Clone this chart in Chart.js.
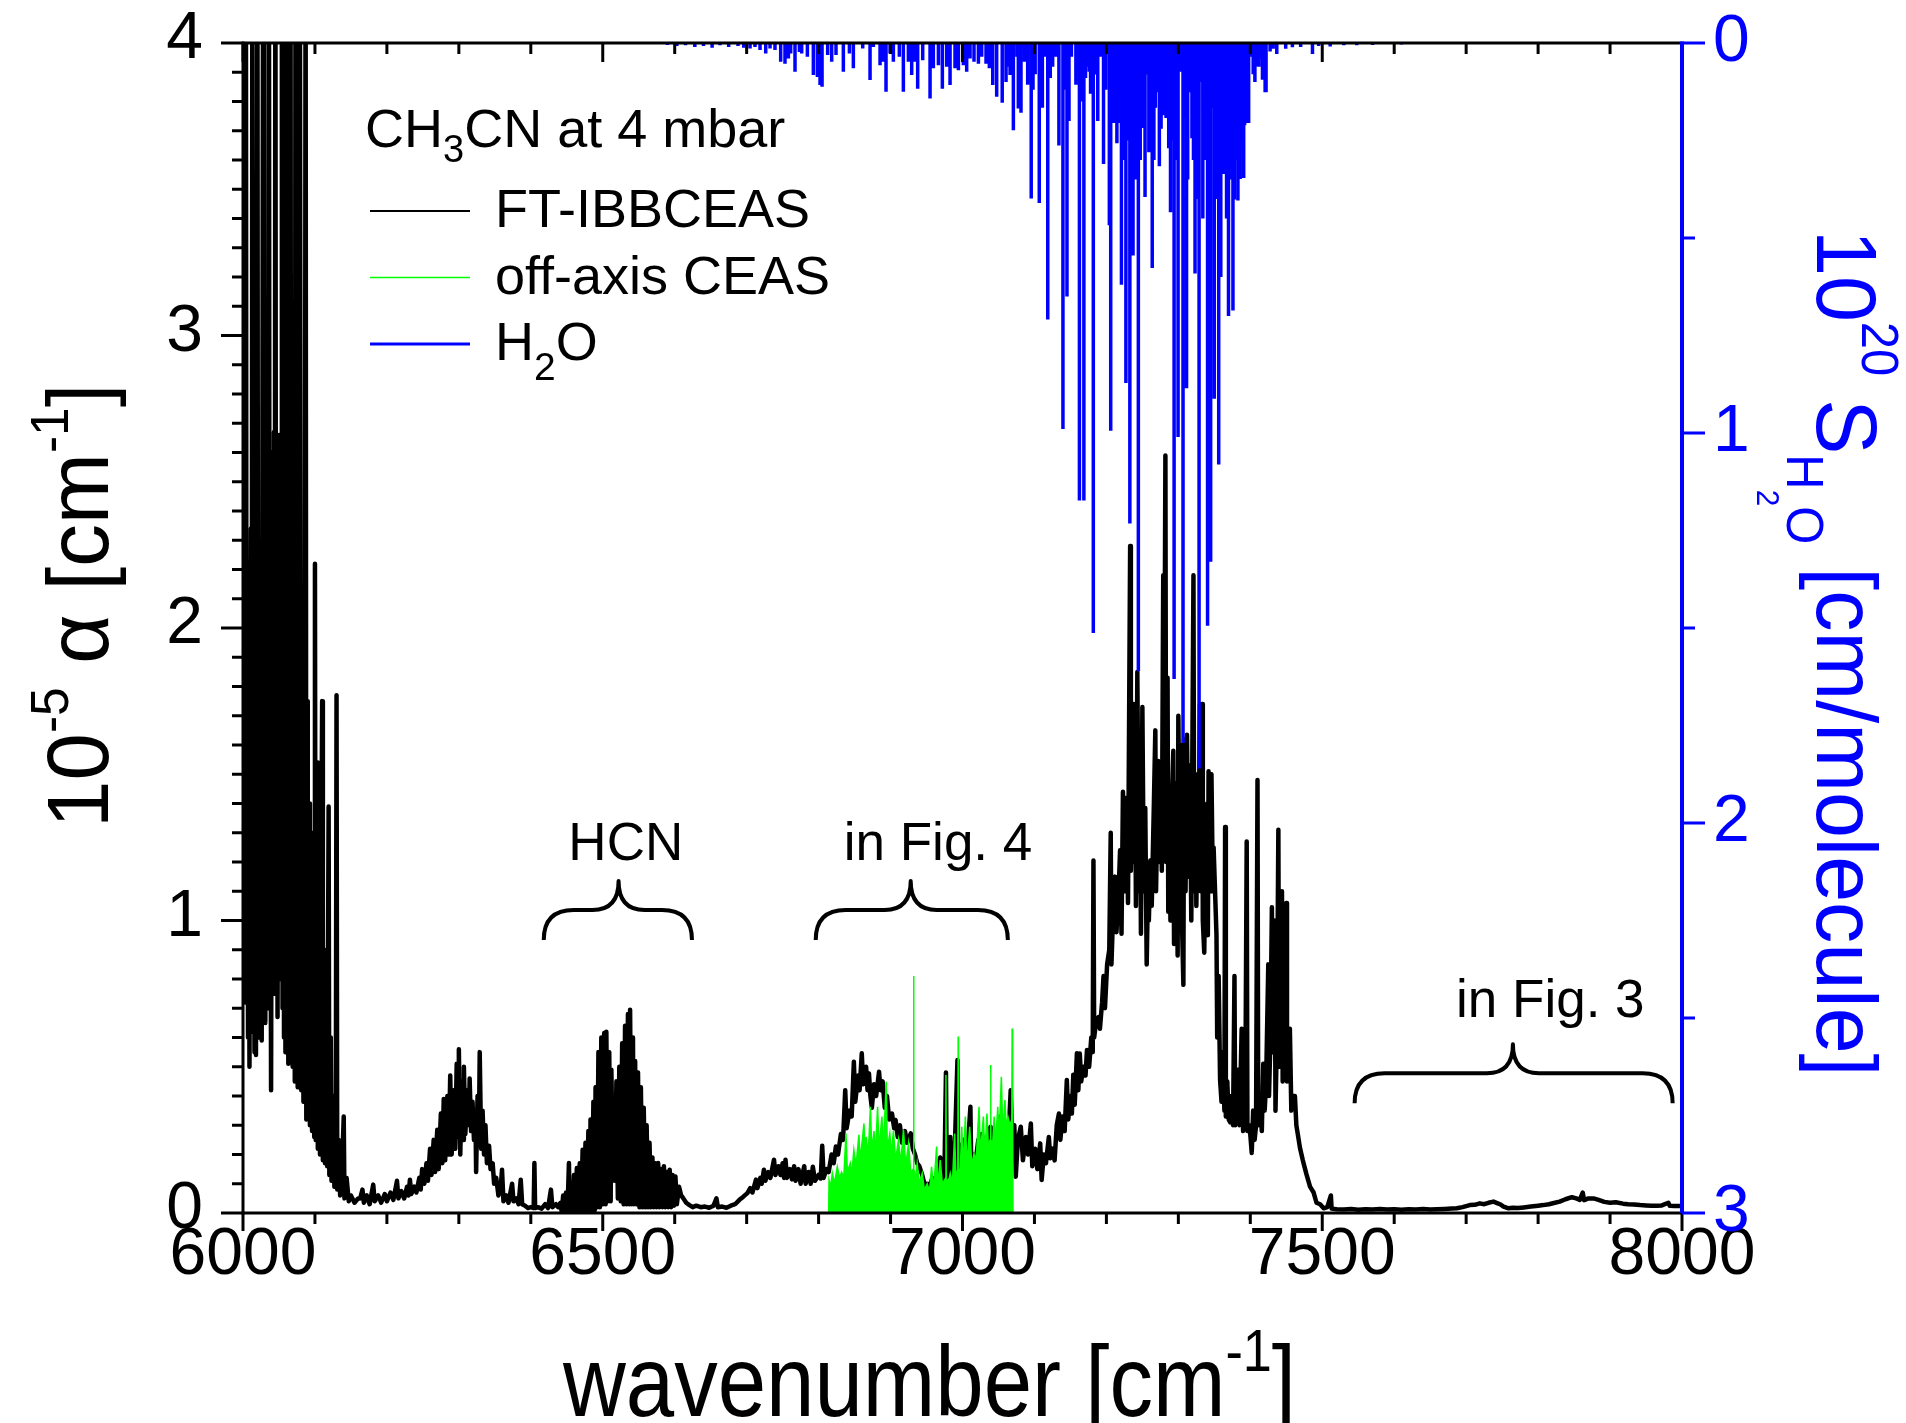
<!DOCTYPE html>
<html>
<head>
<meta charset="utf-8">
<title>CH3CN absorption spectrum</title>
<script src="https://cdn.jsdelivr.net/npm/chart.js@4.4.1/dist/chart.umd.min.js"></script>
<style>
  html, body { margin: 0; padding: 0; background: #fff; }
  canvas { display: block; }
</style>
</head>
<body>
<canvas id="spectrum" width="1906" height="1423"></canvas>
<script>
// --- data: [wavenumber cm-1, value] ---

// FT-IBBCEAS absorption, 1e-5 cm-1 (values above 4 run off the top of the frame)
const ftIbbceas = [
  [6000,1.75],[6001,0.9],[6002,2.72],[6003,0.72],[6004,4.5],[6005,0.8],[6006,2.2],[6007,0.6],[6008,1.9],[6009,0.5],
  [6011,2.34],[6012,0.62],[6013,4.5],[6014,0.7],[6015,1.6],[6016,0.55],[6017,2.0],[6018,0.54],[6020,4.5],[6021,0.75],
  [6022,1.82],[6023,0.6],[6025,1.7],[6026,0.59],[6028,4.5],[6029,0.8],[6030,1.95],[6031,0.65],[6033,2.08],[6034,0.7],
  [6036,4.5],[6037,0.9],[6038,1.7],[6039,0.42],[6041,2.6],[6042,0.75],[6043,2.67],[6044,0.8],[6045,4.5],[6046,0.9],
  [6047,2.5],[6048,0.67],[6050,2.66],[6051,0.8],[6052,2.4],[6053,0.85],[6054,4.5],[6055,0.7],[6056,2.2],[6057,0.6],
  [6058,1.9],[6059,0.55],[6060,4.5],[6061,0.6],[6062,2.16],[6063,0.51],[6064,1.8],[6065,0.55],[6066,4.5],[6067,0.6],
  [6068,1.7],[6069,0.5],[6071,2.0],[6072,0.45],[6073,4.5],[6074,0.5],[6075,2.1],[6076,0.43],[6078,1.6],[6079,4.5],
  [6080,2.05],[6081,0.42],[6083,1.7],[6084,0.38],[6086,1.5],[6087,4.5],[6088,0.32],[6089,1.75],[6090,0.35],[6092,1.4],
  [6093,0.3],[6095,1.2],[6096,0.28],[6098,1.3],[6099,0.26],[6100,2.22],[6101,0.25],[6103,1.54],[6104,0.22],[6106,1.1],
  [6107,0.2],[6110,1.75],[6111,0.18],[6113,0.9],[6114,0.17],[6116,0.75],[6117,0.16],[6119,1.39],[6120,0.13],[6122,0.6],
  [6123,0.11],[6126,0.4],[6127,0.09],[6129,0.3],[6130,1.77],[6131,0.08],[6133,0.25],[6135,0.06],[6138,0.18],[6140,0.33],
  [6141,0.05],[6144,0.12],[6147,0.04],[6150,0.06],[6155,0.035],[6160,0.05],[6163,0.05],[6166,0.08],[6168,0.035],[6172,0.06],
  [6176,0.03],[6181,0.097],[6183,0.04],[6188,0.06],[6192,0.035],[6197,0.065],[6200,0.04],[6205,0.07],[6209,0.045],[6214,0.11],
  [6216,0.05],[6220,0.075],[6224,0.05],[6228,0.09],[6230,0.06],[6232,0.114],[6234,0.065],[6238,0.09],[6241,0.07],[6245,0.12],
  [6247,0.08],[6249,0.15],[6252,0.1],[6255,0.17],[6257,0.11],[6260,0.22],[6262,0.13],[6265,0.25],[6267,0.14],[6270,0.285],
  [6272,0.15],[6275,0.34],[6277,0.17],[6279,0.39],[6281,0.18],[6284,0.4],[6286,0.2],[6288,0.47],[6290,0.2],[6293,0.42],
  [6295,0.22],[6297,0.51],[6299,0.26],[6300,0.56],[6302,0.2],[6304,0.45],[6306,0.25],[6307,0.5],[6309,0.27],[6312,0.42],
  [6314,0.3],[6315,0.46],[6317,0.28],[6319,0.38],[6321,0.25],[6323,0.35],[6324,0.14],[6326,0.4],[6328,0.3],[6329,0.55],
  [6331,0.22],[6333,0.35],[6335,0.2],[6337,0.3],[6339,0.17],[6342,0.23],[6344,0.15],[6347,0.17],[6349,0.1],[6352,0.12],
  [6355,0.06],[6358,0.08],[6360,0.148],[6362,0.04],[6366,0.06],[6369,0.035],[6374,0.1],[6376,0.04],[6380,0.05],[6383,0.03],
  [6386,0.114],[6388,0.03],[6392,0.025],[6396,0.017],[6400,0.02],[6404,0.017],[6405,0.171],[6406,0.017],[6410,0.02],[6415,0.015],
  [6420,0.03],[6424,0.017],[6428,0.08],[6430,0.02],[6435,0.03],[6438,0.02],[6441,0.034],[6443,0.005],[6445,0.06],[6447,0.005],
  [6449,0.07],[6451,0.005],[6453,0.171],[6454,0.005],[6456,0.1],[6458,0.005],[6460,0.13],[6462,0.005],[6464,0.154],[6466,0.005],
  [6468,0.17],[6470,0.01],[6472,0.216],[6474,0.01],[6476,0.24],[6478,0.01],[6480,0.28],[6482,0.01],[6483,0.32],[6485,0.01],
  [6487,0.38],[6489,0.01],[6490,0.43],[6492,0.02],[6494,0.55],[6496,0.02],[6498,0.6],[6500,0.03],[6502,0.615],[6504,0.03],
  [6505,0.62],[6507,0.04],[6509,0.55],[6511,0.04],[6512,0.49],[6514,0.11],[6515,0.365],[6517,0.11],[6519,0.45],[6521,0.05],
  [6523,0.5],[6525,0.04],[6527,0.58],[6529,0.03],[6531,0.64],[6533,0.03],[6535,0.68],[6537,0.03],[6538,0.695],[6540,0.03],
  [6542,0.6],[6543,0.03],[6545,0.52],[6547,0.03],[6549,0.48],[6551,0.02],[6553,0.43],[6555,0.02],[6557,0.36],[6559,0.02],
  [6561,0.3],[6563,0.02],[6565,0.24],[6567,0.02],[6569,0.19],[6571,0.02],[6573,0.17],[6575,0.02],[6577,0.171],[6579,0.02],
  [6581,0.15],[6583,0.02],[6585,0.16],[6587,0.02],[6589,0.14],[6591,0.02],[6593,0.148],[6595,0.02],[6597,0.13],[6599,0.025],
  [6601,0.125],[6603,0.03],[6606,0.09],[6609,0.06],[6612,0.05],[6616,0.035],[6620,0.028],[6625,0.02],[6630,0.025],[6636,0.02],
  [6642,0.022],[6648,0.018],[6654,0.025],[6658,0.05],[6660,0.02],[6666,0.022],[6672,0.018],[6678,0.025],[6684,0.03],[6690,0.045],
  [6695,0.055],[6701,0.068],[6705,0.085],[6708,0.07],[6713,0.114],[6715,0.085],[6719,0.12],[6721,0.1],[6724,0.148],[6726,0.11],
  [6730,0.14],[6733,0.12],[6738,0.182],[6740,0.13],[6744,0.16],[6747,0.13],[6750,0.17],[6752,0.12],[6754,0.182],[6756,0.12],
  [6760,0.15],[6763,0.115],[6766,0.16],[6768,0.11],[6772,0.15],[6775,0.1],[6780,0.16],[6782,0.1],[6786,0.14],[6789,0.1],
  [6792,0.158],[6795,0.11],[6800,0.13],[6803,0.118],[6805,0.23],[6807,0.12],[6811,0.15],[6814,0.14],[6818,0.2],[6821,0.17],
  [6824,0.227],[6827,0.2],[6831,0.27],[6834,0.25],[6837,0.42],[6839,0.29],[6843,0.35],[6846,0.33],[6849,0.517],[6851,0.38],
  [6855,0.47],[6857,0.42],[6860,0.546],[6862,0.44],[6866,0.5],[6868,0.42],[6870,0.477],[6872,0.4],[6874,0.36],[6877,0.44],
  [6880,0.4],[6884,0.483],[6886,0.42],[6889,0.45],[6892,0.36],[6895,0.4],[6898,0.32],[6902,0.34],[6905,0.29],[6907,0.318],
  [6910,0.26],[6913,0.3],[6916,0.24],[6920,0.28],[6923,0.24],[6928,0.272],[6931,0.22],[6934,0.2],[6937,0.17],[6940,0.16],
  [6944,0.13],[6948,0.09],[6951,0.1],[6955,0.096],[6958,0.12],[6962,0.1],[6966,0.16],[6969,0.19],[6971,0.1],[6975,0.15],
  [6977,0.48],[6978,0.12],[6981,0.2],[6983,0.26],[6985,0.12],[6989,0.2],[6993,0.523],[6994,0.14],[6998,0.22],[7002,0.25],
  [7004,0.18],[7008,0.25],[7011,0.363],[7012,0.18],[7016,0.2],[7018,0.17],[7022,0.25],[7025,0.2],[7027,0.27],[7031,0.21],
  [7035,0.26],[7039,0.295],[7042,0.22],[7046,0.27],[7050,0.24],[7053,0.33],[7056,0.25],[7060,0.3],[7064,0.26],[7067,0.42],
  [7069,0.27],[7072,0.3],[7074,0.124],[7077,0.25],[7081,0.295],[7084,0.18],[7088,0.26],[7091,0.2],[7095,0.306],[7097,0.16],
  [7101,0.22],[7104,0.15],[7108,0.238],[7110,0.113],[7113,0.2],[7116,0.17],[7120,0.26],[7122,0.187],[7125,0.22],[7128,0.18],
  [7131,0.3],[7134,0.34],[7136,0.25],[7139,0.33],[7142,0.28],[7145,0.455],[7147,0.32],[7150,0.4],[7152,0.34],[7154,0.473],
  [7156,0.37],[7159,0.546],[7161,0.42],[7163,0.545],[7165,0.45],[7168,0.5],[7171,0.47],[7173,0.557],[7176,0.5],[7179,0.6],
  [7181,0.55],[7182,1.205],[7183,0.6],[7186,0.66],[7189,0.67],[7191,0.63],[7194,0.72],[7196,0.81],[7198,0.7],[7201,0.85],
  [7204,0.9],[7206,1.3],[7207,0.85],[7209,1.0],[7212,1.15],[7214,0.96],[7217,1.1],[7219,1.24],[7221,0.955],[7223,1.44],
  [7225,1.1],[7228,1.42],[7230,1.06],[7233,2.28],[7234,1.17],[7236,1.5],[7237,1.74],[7238,1.2],[7240,1.6],[7241,1.05],
  [7243,1.85],[7245,1.1],[7247,1.35],[7248,0.955],[7250,1.73],[7252,1.1],[7254,1.385],[7256,0.85],[7258,1.15],[7259,1.0],
  [7261,1.205],[7263,1.05],[7266,1.4],[7268,1.65],[7269,1.1],[7272,1.545],[7274,1.2],[7276,1.5],[7277,1.17],[7279,2.18],
  [7280,1.3],[7282,2.59],[7283,1.2],[7285,1.83],[7286,1.03],[7288,1.35],[7289,1.0],[7291,1.4],[7293,1.58],[7294,0.92],
  [7296,1.3],[7297,1.47],[7299,0.88],[7300,1.7],[7302,1.2],[7303,1.6],[7305,1.0],[7307,0.78],[7308,1.62],[7310,1.1],
  [7312,1.635],[7314,1.15],[7316,1.53],[7318,1.0],[7321,2.18],[7322,1.1],[7324,1.5],[7325,1.05],[7327,1.4],[7328,1.2],
  [7330,1.74],[7331,1.1],[7333,1.74],[7334,1.0],[7336,0.89],[7338,1.3],[7340,1.4],[7341,0.95],[7342,1.51],[7344,1.1],
  [7346,1.5],[7348,1.1],[7349,1.25],[7351,1.1],[7353,0.95],[7354,0.6],[7356,0.81],[7358,0.455],[7360,0.38],[7362,0.55],
  [7364,0.35],[7365,1.32],[7366,0.33],[7368,0.45],[7370,0.32],[7372,0.31],[7374,0.4],[7376,0.3],[7378,0.81],[7379,0.3],
  [7381,0.45],[7383,0.49],[7385,0.3],[7388,0.63],[7390,0.28],[7393,0.35],[7395,1.27],[7396,0.28],[7399,0.3],[7402,0.205],
  [7404,0.35],[7406,0.25],[7408,0.3],[7410,1.48],[7411,0.3],[7414,0.35],[7416,0.28],[7418,0.51],[7420,0.35],[7422,0.45],
  [7425,0.85],[7426,0.4],[7428,0.6],[7430,1.045],[7431,0.55],[7434,1.0],[7435,0.35],[7437,0.6],[7439,1.31],[7440,0.5],
  [7442,0.7],[7444,1.1],[7445,0.45],[7447,0.6],[7450,1.06],[7451,0.45],[7453,0.5],[7455,0.63],[7457,0.35],[7459,0.4],
  [7462,0.4],[7464,0.3],[7466,0.27],[7469,0.223],[7473,0.18],[7478,0.133],[7483,0.09],[7488,0.07],[7492,0.035],[7497,0.03],
  [7502,0.016],[7507,0.02],[7512,0.06],[7513,0.015],[7520,0.013],[7530,0.012],[7540,0.014],[7550,0.011],[7560,0.013],[7570,0.012],
  [7580,0.014],[7590,0.012],[7600,0.013],[7610,0.011],[7620,0.013],[7630,0.012],[7640,0.014],[7650,0.012],[7660,0.013],[7670,0.014],
  [7680,0.015],[7687,0.016],[7695,0.02],[7705,0.027],[7712,0.028],[7719,0.033],[7725,0.03],[7731,0.035],[7738,0.039],[7743,0.034],
  [7747,0.03],[7752,0.022],[7759,0.016],[7765,0.018],[7772,0.017],[7780,0.019],[7790,0.022],[7800,0.025],[7807,0.027],[7815,0.03],
  [7822,0.034],[7830,0.039],[7838,0.047],[7847,0.054],[7853,0.05],[7858,0.045],[7862,0.07],[7864,0.044],[7870,0.05],[7877,0.05],
  [7884,0.045],[7892,0.038],[7900,0.035],[7908,0.037],[7918,0.032],[7925,0.03],[7933,0.029],[7942,0.027],[7950,0.026],[7958,0.025],
  [7965,0.025],[7972,0.026],[7981,0.035],[7983,0.025],[7990,0.024],[8000,0.024]
];

// off-axis CEAS, 1e-5 cm-1 (upper edge of the filled band)
const offAxisCeas = [
  [6814,0],[6814.5,0.113],[6817,0.09],[6819,0.136],[6822,0.1],[6826,0.158],[6829,0.12],[6832,0.14],[6835,0.12],[6838,0.272],
  [6840,0.14],[6844,0.17],[6846,0.13],[6849,0.215],[6852,0.16],[6856,0.267],[6858,0.18],[6863,0.306],[6865,0.2],[6866,0.26],
  [6869,0.2],[6872,0.363],[6874,0.21],[6877,0.28],[6879,0.2],[6882,0.363],[6884,0.22],[6888,0.33],[6890,0.22],[6894,0.449],
  [6895.5,0.22],[6899,0.272],[6901,0.2],[6904,0.28],[6907,0.18],[6911,0.25],[6914,0.17],[6918,0.284],[6921,0.16],[6925,0.238],
  [6928,0.14],[6931.5,0.15],[6932,0.81],[6932.5,0.15],[6935,0.12],[6937,0.17],[6940,0.1],[6944,0.136],[6947,0.08],[6951,0.1],
  [6954,0.07],[6957,0.158],[6960,0.08],[6964,0.227],[6966,0.09],[6969,0.181],[6972,0.1],[6976.5,0.12],[6977,0.472],[6977.5,0.12],
  [6980,0.1],[6983,0.136],[6986,0.1],[6989,0.272],[6991,0.12],[6993.5,0.15],[6994,0.603],[6994.5,0.15],[6997,0.15],[6999,0.295],
  [7001,0.15],[7004,0.33],[7006,0.16],[7010,0.295],[7013,0.16],[7016,0.204],[7019,0.18],[7023,0.363],[7025,0.2],[7029,0.33],
  [7031,0.2],[7034,0.34],[7036,0.22],[7038.5,0.25],[7039,0.506],[7039.5,0.25],[7042,0.24],[7044,0.33],[7046,0.24],[7049,0.363],
  [7051,0.26],[7054,0.466],[7056,0.27],[7059,0.386],[7061,0.28],[7063,0.33],[7066,0.3],[7068.5,0.32],[7069,0.631],[7069.5,0.3],
  [7070,0.27],[7070.2,0]
];

// H2O line strengths, 1e-20 cm/molecule (drawn as sticks hanging from the top)
const h2oLines = [
  [6590,0.005],[6603,0.008],[6615,0.006],[6628,0.01],[6640,0.008],[6652,0.012],[6663,0.006],[6675,0.01],[6688,0.008],[6696,0.012],
  [6704.7,0.014],[6711.6,0.01],[6718.6,0.018],[6726.5,0.027],[6732.5,0.014],[6739.4,0.018],[6747.3,0.048],[6753.3,0.053],[6758,0.04],[6761.2,0.027],
  [6767.2,0.074],[6773.3,0.023],[6776.5,0.027],[6784.4,0.035],[6792.7,0.082],[6798.3,0.087],[6802,0.108],[6804.8,0.112],[6812.6,0.031],[6818.2,0.048],
  [6824.2,0.031],[6834.4,0.074],[6842.8,0.027],[6848.3,0.065],[6861.3,0.014],[6871.5,0.095],[6876.1,0.01],[6885.4,0.057],[6889.1,0.048],[6893.7,0.125],
  [6899.3,0.027],[6903.9,0.048],[6912.2,0.035],[6917.8,0.125],[6924.8,0.048],[6929.4,0.082],[6934,0.048],[6937.7,0.117],[6944.7,0.044],[6954.9,0.142],
  [6959.5,0.065],[6966.5,0.057],[6972,0.117],[6978,0.061],[6982.7,0.108],[6989.6,0.065],[6994.3,0.07],[7001.2,0.057],[7005.8,0.074],[7010.5,0.04],
  [7016,0.048],[7022.1,0.053],[7026.7,0.035],[7032.7,0.053],[7037.3,0.065],[7042,0.108],[7047.5,0.138],[7055.2,0.153],[7060.5,0.1],[7064.5,0.061],
  [7066.1,0.082],[7070.7,0.224],[7075.7,0.035],[7077.6,0.168],[7081.3,0.179],[7086.2,0.048],[7090.6,0.107],[7095.5,0.399],[7098,0.12],[7101,0.08],
  [7106.7,0.41],[7111,0.166],[7114,0.035],[7118.5,0.709],[7122,0.09],[7125.3,0.061],[7129.7,0.035],[7134,0.263],[7139.6,0.99],[7143,0.12],
  [7145.2,0.65],[7148,0.2],[7151.4,0.035],[7157.6,0.107],[7162.5,1.173],[7165,0.15],[7168.7,1.173],[7171,0.09],[7173.1,0.061],[7176.2,0.074],
  [7178,0.13],[7181.8,1.513],[7185.5,0.081],[7188,0.2],[7191.7,0.035],[7196,0.31],[7199,0.12],[7204.1,0.467],[7206,0.994],[7210.3,0.205],
  [7212,0.16],[7214.6,0.257],[7218.4,0.205],[7220.9,0.62],[7224,0.3],[7227.1,0.872],[7230,0.25],[7232.6,1.232],[7237,0.545],[7238.2,0.1],
  [7240,0.35],[7244.4,1.611],[7247,0.3],[7249.4,0.218],[7253.7,0.395],[7256.8,0.081],[7259,0.28],[7263.7,0.577],[7266,0.3],[7268,0.166],
  [7270.5,0.126],[7273.6,0.316],[7276,0.22],[7278.5,0.185],[7282.9,0.192],[7286.6,0.27],[7289.1,0.434],[7292,0.25],[7294.1,1.631],[7297,0.3],
  [7299.6,1.01],[7303.4,0.074],[7306.5,1.795],[7309.6,0.192],[7311.4,0.885],[7313,0.35],[7315.8,0.126],[7318.9,0.244],[7321,0.3],[7323.2,0.591],
  [7326,0.4],[7328.8,1.86],[7331.3,0.1],[7334,0.45],[7336.3,0.153],[7338,0.3],[7340.6,1.494],[7343,0.35],[7344.9,1.33],[7347.4,0.166],
  [7349.9,0.912],[7352,0.4],[7356.1,1.081],[7359,0.6],[7362.3,0.336],[7365.4,0.211],[7367,0.45],[7369.7,0.7],[7373,0.35],[7375.9,0.686],
  [7377.8,0.401],[7380,0.3],[7382.8,0.404],[7385.9,0.349],[7388,0.25],[7390.8,0.346],[7392.1,0.211],[7394,0.15],[7396.4,0.205],[7397.7,0.205],
  [7401.4,0.035],[7404,0.08],[7406.4,0.1],[7409,0.06],[7411.9,0.061],[7414,0.04],[7416.9,0.094],[7420.6,0.126],[7421.9,0.126],[7427.5,0.022],
  [7431.8,0.015],[7436.8,0.028],[7449.2,0.015],[7458.5,0.011],[7470,0.01],[7486.4,0.028],[7495,0.008],[7511,0.009],[7530,0.006],[7548,0.006],
  [7570,0.005],[7610,0.004]
];

// axis tick values
const wnTicks = [6000, 6500, 7000, 7500, 8000];
const alphaTicks = [0, 1, 2, 3, 4];
const strengthTicks = [0, 1, 2, 3];

// braces and their captions: span in cm-1, bar height in 1e-5 cm-1
const annotations = [
  { from: 6418, to: 6624, tip: 6522, bar: 1.036, text: 'HCN', textX: 6532, textY: 1.207 },
  { from: 6796, to: 7063, tip: 6928, bar: 1.036, text: 'in Fig. 4', textX: 6966, textY: 1.207 },
  { from: 7545, to: 7987, tip: 7765, bar: 0.478, text: 'in Fig. 3', textX: 7817, textY: 0.67 }
];

const FONT = "'Liberation Sans', Arial, Helvetica, sans-serif";
const BLUE = '#0000ff';
const GREEN = '#00ff00';

const toXY = pairs => pairs.map(p => ({ x: p[0], y: p[1] }));

// each stick: from 0 down to its strength, then a gap
const h2oSticks = [];
h2oLines.forEach(([wn, s]) => {
  h2oSticks.push({ x: wn, y: 0 }, { x: wn, y: s }, { x: wn, y: null });
});

// draws text made of runs with their own size and baseline shift
function richText(ctx, x, y, runs, angle, squeeze) {
  ctx.save();
  ctx.translate(x, y);
  if (angle) ctx.rotate(angle);
  if (squeeze) ctx.scale(squeeze, 1);
  ctx.textAlign = 'left';
  ctx.textBaseline = 'alphabetic';
  let cx = 0;
  runs.forEach(r => {
    ctx.font = r.size + 'px ' + FONT;
    ctx.fillText(r.text, cx, -(r.rise || 0));
    cx += ctx.measureText(r.text).width;
  });
  ctx.restore();
}

function seg(ctx, x1, y1, x2, y2) {
  ctx.beginPath();
  ctx.moveTo(x1, y1);
  ctx.lineTo(x2, y2);
  ctx.stroke();
}

// frame, minor ticks, braces, legend and axis titles
const decorations = {
  id: 'decorations',
  afterDatasetsDraw(chart) {
    const { ctx, chartArea: a, scales } = chart;
    const x = scales.x, y = scales.y, s = scales.yS;
    ctx.save();
    ctx.lineCap = 'butt';

    // wavenumber ticks: outward at the bottom, inward at the top
    ctx.strokeStyle = '#000';
    ctx.lineWidth = 3;
    for (let v = 6000; v <= 8000; v += 100) {
      const px = x.getPixelForValue(v);
      const major = v % 500 === 0;
      seg(ctx, px, a.bottom, px, a.bottom + (major ? 18 : 11));
      seg(ctx, px, a.top, px, a.top + (major ? 19 : 11));
    }
    // alpha ticks on the left, every 0.1
    for (let i = 0; i <= 40; i++) {
      const py = y.getPixelForValue(i / 10);
      seg(ctx, a.left, py, a.left - (i % 10 === 0 ? 22 : 11), py);
    }
    // frame lines
    seg(ctx, a.left, a.top, a.right, a.top);
    seg(ctx, a.left - 1.5, a.bottom, a.right, a.bottom);
    seg(ctx, a.left, a.top - 1.5, a.left, a.bottom + 1.5);

    // strength axis in blue
    ctx.strokeStyle = BLUE;
    ctx.lineWidth = 3;
    for (let i = 0; i <= 6; i++) {
      const py = s.getPixelForValue(i / 2);
      seg(ctx, a.right, py, a.right + (i % 2 === 0 ? 23 : 13), py);
    }
    ctx.lineWidth = 4;
    seg(ctx, a.right, a.top - 1.5, a.right, a.bottom);

    // braces with captions
    ctx.strokeStyle = '#000';
    ctx.fillStyle = '#000';
    ctx.lineWidth = 4;
    ctx.lineJoin = 'round';
    annotations.forEach(n => {
      const x0 = x.getPixelForValue(n.from), x1 = x.getPixelForValue(n.to);
      const xt = x.getPixelForValue(n.tip), yb = y.getPixelForValue(n.bar);
      const yEnd = yb + 30, yTip = yb - 29, r = 30, rt = 26;
      ctx.beginPath();
      ctx.moveTo(x0, yEnd);
      ctx.quadraticCurveTo(x0, yb, x0 + r, yb);
      ctx.lineTo(xt - rt, yb);
      ctx.quadraticCurveTo(xt, yb, xt, yTip);
      ctx.quadraticCurveTo(xt, yb, xt + rt, yb);
      ctx.lineTo(x1 - r, yb);
      ctx.quadraticCurveTo(x1, yb, x1, yEnd);
      ctx.stroke();
      ctx.font = '53px ' + FONT;
      ctx.textAlign = 'center';
      ctx.textBaseline = 'alphabetic';
      ctx.fillText(n.text, x.getPixelForValue(n.textX), y.getPixelForValue(n.textY));
    });

    // legend
    const lx = a.left + 122;
    richText(ctx, lx, a.top + 104, [
      { text: 'CH', size: 54 }, { text: '3', size: 38, rise: -15 }, { text: 'CN at 4 mbar', size: 54 }
    ]);
    const entries = [
      { color: '#000', width: 2, runs: [{ text: 'FT-IBBCEAS', size: 54 }] },
      { color: GREEN, width: 1.5, runs: [{ text: 'off-axis CEAS', size: 54 }] },
      { color: BLUE, width: 3, runs: [{ text: 'H', size: 54 }, { text: '2', size: 39, rise: -20 }, { text: 'O', size: 54 }] }
    ];
    entries.forEach((e, i) => {
      const ly = a.top + 168 + i * 66.5;
      ctx.strokeStyle = e.color;
      ctx.lineWidth = e.width;
      seg(ctx, lx + 5, ly, lx + 105, ly);
      ctx.fillStyle = '#000';
      richText(ctx, lx + 130, ly + 16, e.runs);
    });

    // axis titles
    ctx.fillStyle = '#000';
    richText(ctx, 563, 1416, [
      { text: 'wavenumber [cm', size: 100 }, { text: '-1', size: 60, rise: 45 }, { text: ']', size: 100 }
    ], 0, 0.87);
    richText(ctx, 108, 828, [
      { text: '10', size: 88 }, { text: '-5', size: 53, rise: 40 }, { text: ' \u03b1 [cm', size: 88 },
      { text: '-1', size: 53, rise: 40 }, { text: ']', size: 88 }
    ], -Math.PI / 2, 0.97);
    ctx.fillStyle = BLUE;
    richText(ctx, 1817, 230, [
      { text: '10', size: 86 }, { text: '20', size: 51, rise: 45 }, { text: ' S', size: 86 },
      { text: 'H', size: 51, rise: -30 }, { text: '2', size: 31, rise: -60 }, { text: 'O', size: 51, rise: -30 },
      { text: ' [cm/molecule]', size: 86 }
    ], Math.PI / 2, 0.96);

    ctx.restore();
  }
};

const tickFont = { family: FONT, size: 66, lineHeight: 1.2 };

// fixed axis boxes; label overhang is already inside them
const fixWidth = w => sc => { sc.width = w; sc.paddingTop = 0; sc.paddingBottom = 0; };

new Chart(document.getElementById('spectrum'), {
  type: 'line',
  data: {
    datasets: [
      { label: 'H2O', data: h2oSticks, yAxisID: 'yS', borderColor: BLUE, borderWidth: 3.5,
        pointRadius: 0, spanGaps: false, borderCapStyle: 'butt', order: 0 },
      { label: 'off-axis CEAS', data: toXY(offAxisCeas), yAxisID: 'y', borderColor: GREEN, backgroundColor: GREEN,
        borderWidth: 1.5, fill: 'origin', pointRadius: 0, order: 1 },
      { label: 'FT-IBBCEAS', data: toXY(ftIbbceas), yAxisID: 'y', borderColor: '#000', borderWidth: 4.5,
        borderJoinStyle: 'round', pointRadius: 0, order: 2 }
    ]
  },
  options: {
    responsive: false,
    animation: false,
    devicePixelRatio: 1,
    events: [],
    layout: { padding: { top: 43, left: 0, right: 0, bottom: 0 } },
    elements: { line: { tension: 0 } },
    plugins: { legend: { display: false }, tooltip: { enabled: false } },
    scales: {
      x: {
        type: 'linear', position: 'bottom', min: 6000, max: 8000,
        afterBuildTicks: sc => { sc.ticks = wnTicks.map(v => ({ value: v })); },
        afterFit: sc => { sc.height = 210; sc.paddingLeft = 0; sc.paddingRight = 0; },
        ticks: { font: tickFont, color: '#000', padding: 3, maxRotation: 0, autoSkip: false, callback: v => String(v) },
        grid: { drawOnChartArea: false, drawTicks: false },
        border: { display: false }
      },
      y: {
        type: 'linear', position: 'left', min: 0, max: 4,
        afterBuildTicks: sc => { sc.ticks = alphaTicks.map(v => ({ value: v })); },
        afterFit: fixWidth(243),
        ticks: { font: tickFont, color: '#000', padding: 40, labelOffset: -3, autoSkip: false, callback: v => String(v) },
        grid: { drawOnChartArea: false, drawTicks: false },
        border: { display: false }
      },
      yS: {
        type: 'linear', position: 'right', min: 0, max: 3, reverse: true,
        afterBuildTicks: sc => { sc.ticks = strengthTicks.map(v => ({ value: v })); },
        afterFit: fixWidth(224),
        ticks: { font: tickFont, color: BLUE, padding: 31, autoSkip: false, callback: v => String(v) },
        grid: { drawOnChartArea: false, drawTicks: false },
        border: { display: false }
      }
    }
  },
  plugins: [decorations]
});
</script>
</body>
</html>
